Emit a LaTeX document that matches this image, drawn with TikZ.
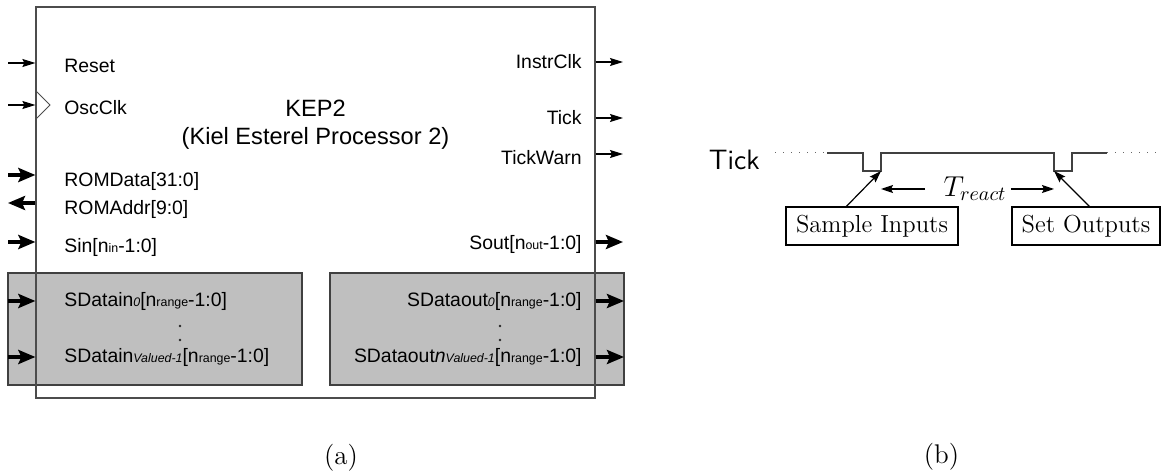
\documentclass[tikz,border=0pt]{standalone}
\usepackage{fontspec}
\newfontfamily\arial{Liberation Sans}
\usetikzlibrary{arrows.meta}

% label fonts of the block diagram
\newcommand\lblfont{\arial\fontsize{9.7}{11.5}\selectfont}
\newcommand\sm[1]{{\fontsize{6.2}{7}\selectfont #1}}
\newcommand\smit[1]{{\fontsize{6.2}{7}\selectfont\itshape #1}}

\begin{document}
\begin{tikzpicture}[x=0.5pt,y=-0.5pt,
  blk/.style={draw=black!70,line width=0.6pt,inner sep=0pt},
  grayblk/.style={draw=black!75,fill=black!25,line width=0.6pt,inner sep=0pt},
  sig/.style={line width=0.55pt,-{Stealth[length=6.5pt,width=4pt,inset=1pt]}},
  bus/.style={line width=2pt,-{Stealth[length=8.5pt,width=7pt,inset=1.5pt]}},
  port/.style={font=\lblfont,inner sep=0pt},
  dotmark/.style={fill=black!85},
  wave/.style={draw=black!75,line width=0.6pt},
  dots/.style={draw=black!60,line width=0.5pt,dash pattern=on 0.5pt off 3.5pt},
  ptr/.style={line width=0.6pt,-{Stealth[length=6pt,width=4pt,inset=1pt]}},
  lbox/.style={draw,line width=0.6pt,minimum height=19pt,inner xsep=4pt,
    font=\fontsize{12.3}{14}\selectfont},
  caption/.style={font=\fontsize{13.5}{16}\selectfont},
]
\useasboundingbox (0,0) rectangle (1162,475);

% ---------- (a) KEP2 block ----------
\node[grayblk,minimum width=147pt,minimum height=56pt] (gin) at (155,329) {};
\node[grayblk,minimum width=147pt,minimum height=56pt] (gout) at (477,329) {};
\node[blk,minimum width=279.5pt,minimum height=195.5pt] (kep) at (315.5,202.5) {};

\node[font=\arial\fontsize{11.8}{14}\selectfont,anchor=base,inner sep=0pt] (title1) at (315.5,117) {KEP2};
\node[font=\arial\fontsize{11.8}{14}\selectfont,anchor=base,inner sep=0pt] (title2) at (315.5,145) {(Kiel Esterel Processor 2)};

% clock input marker
\draw[black!70,line width=0.5pt] (36,91) -- (50,105) -- (36,119);

% inputs
\coordinate (rst) at (8,63);
\coordinate (osc) at (8,105);
\coordinate (romd) at (8,175);
\coordinate (roma) at (8,203);
\coordinate (sin) at (8,242);
\coordinate (sdi0) at (8,301);
\coordinate (sdin) at (8,357);
\draw[sig] (rst) -- (rst -| kep.west);
\draw[sig] (osc) -- (osc -| kep.west);
\draw[bus] (romd) -- (romd -| kep.west);
\draw[bus] (roma -| kep.west) -- (roma);
\draw[bus] (sin) -- (sin -| kep.west);
\draw[bus] (sdi0) -- (sdi0 -| kep.west);
\draw[bus] (sdin) -- (sdin -| kep.west);

\node[port,anchor=base west] (lrst) at (64,73) {Reset};
\node[port,anchor=base west] (losc) at (64,115) {OscClk};
\node[port,anchor=base west] (lromd) at (64,187) {ROMData[31:0]};
\node[port,anchor=base west] (lroma) at (64,215) {ROMAddr[9:0]};
\node[port,anchor=base west] (lsin) at (64,253) {Sin[n\sm{in}-1:0]};
\node[port,anchor=base west] (lsdi0) at (64,307) {SDatain\smit{0}[n\sm{range}-1:0]};
\node[port,anchor=base west] (lsdin) at (64,363) {SDatain\smit{Valued-1}[n\sm{range}-1:0]};
% vertical ellipsis between the serial data inputs
\fill[dotmark] (180,326) circle[radius=0.65pt];
\fill[dotmark] (180,340) circle[radius=0.65pt];

% outputs
\coordinate (ick) at (623,62);
\coordinate (tck) at (623,118);
\coordinate (twn) at (623,154);
\coordinate (sout) at (623,242);
\coordinate (sdo0) at (624,301);
\coordinate (sdon) at (624,357);
\draw[sig] (ick -| kep.east) -- (ick);
\draw[sig] (tck -| kep.east) -- (tck);
\draw[sig] (twn -| kep.east) -- (twn);
\draw[bus] (sout -| kep.east) -- (sout);
\draw[bus] (sdo0 -| kep.east) -- (sdo0);
\draw[bus] (sdon -| kep.east) -- (sdon);

\node[port,anchor=base east] (lick) at (582,69) {InstrClk};
\node[port,anchor=base east] (ltck) at (582,125) {Tick};
\node[port,anchor=base east] (ltwn) at (582,165) {TickWarn};
\node[port,anchor=base east] (lsout) at (582,250) {Sout[n\sm{out}-1:0]};
\node[port,anchor=base east] (lsdo0) at (582,307) {SDataout\smit{0}[n\sm{range}-1:0]};
\node[port,anchor=base east] (lsdon) at (582,363) {SDataout{\itshape n}\smit{Valued-1}[n\sm{range}-1:0]};
% vertical ellipsis between the serial data outputs
\fill[dotmark] (500,326) circle[radius=0.65pt];
\fill[dotmark] (500,340) circle[radius=0.65pt];

\node[caption] (capa) at (341,458) {(a)};

% ---------- (b) reaction timing ----------
\node[font=\sffamily\fontsize{14}{16}\selectfont,anchor=base east,inner sep=0pt] (ticklbl) at (760,170) {Tick};

\coordinate (w0) at (775,153);
\coordinate (w1) at (827,153);
\coordinate (w2) at (863,153);
\coordinate (w3) at (863,171);
\coordinate (w4) at (881,171);
\coordinate (w5) at (881,153);
\coordinate (w6) at (1054,153);
\coordinate (w7) at (1054,171);
\coordinate (w8) at (1072,171);
\coordinate (w9) at (1072,153);
\coordinate (w10) at (1107,153);
\coordinate (w11) at (1162,153);
\draw[dots] (w0) -- (w1);
\draw[wave] (w1) -- (w2) -- (w3) -- (w4) -- (w5) -- (w6) -- (w7) -- (w8) -- (w9) -- (w10);
\draw[dots] (w10) -- (w11);

\node[lbox,minimum width=86pt] (sample) at (872,226) {Sample Inputs};
\node[lbox,minimum width=74pt] (setout) at (1086,226) {Set Outputs};
\draw[ptr] ([xshift=30.5pt]sample.north west) -- (w4);
\draw[ptr] ([xshift=39pt]setout.north west) -- (w7);

\node[font=\fontsize{14.4}{17}\selectfont,inner xsep=0pt,inner ysep=1pt] (treact) at (975,189) {$T_{react}$};
\draw[ptr] ([xshift=-9pt]treact.west) -- (treact.west -| w5);
\draw[ptr] ([xshift=2pt]treact.east) -- (treact.east -| w6);

\node[caption] (capb) at (941.5,457) {(b)};
\end{tikzpicture}
\end{document}
